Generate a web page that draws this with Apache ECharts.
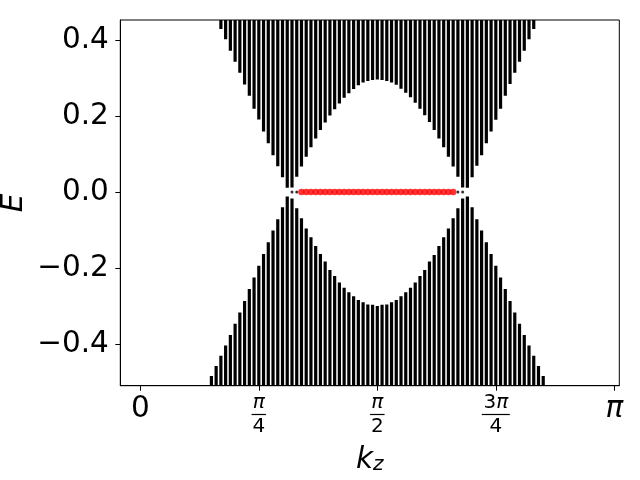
<!DOCTYPE html>
<html>
<head>
<meta charset="utf-8">
<script src="https://cdn.jsdelivr.net/npm/echarts@6/dist/echarts.min.js"></script>
<style>
  html, body { margin: 0; padding: 0; background: #fff; }
  #chart { width: 640px; height: 480px; }
</style>
</head>
<body>
<div id="chart"></div>
<script>
// kz in units of pi; E (edge of each column of eigenvalues)
const kzUpper = [0.17, 0.18, 0.19, 0.20, 0.21, 0.22, 0.23, 0.24, 0.25, 0.26, 0.27, 0.28, 0.29, 0.30, 0.31, 0.32, 0.33,
  0.34, 0.35, 0.36, 0.37, 0.38, 0.39, 0.40, 0.41, 0.42, 0.43, 0.44, 0.45, 0.46, 0.47, 0.48, 0.49, 0.50,
  0.51, 0.52, 0.53, 0.54, 0.55, 0.56, 0.57, 0.58, 0.59, 0.60, 0.61, 0.62, 0.63, 0.64, 0.65, 0.66,
  0.67, 0.68, 0.69, 0.70, 0.71, 0.72, 0.73, 0.74, 0.75, 0.76, 0.77, 0.78, 0.79, 0.80, 0.81, 0.82, 0.83];
const eUpper = [0.429, 0.402, 0.372, 0.343, 0.314, 0.283, 0.253, 0.219, 0.191, 0.159, 0.128, 0.097, 0.068, 0.039, 0.011, 0.012, 0.040,
  0.067, 0.093, 0.118, 0.141, 0.163, 0.183, 0.201, 0.218, 0.233, 0.248, 0.260, 0.271, 0.281, 0.288, 0.292, 0.295, 0.296,
  0.295, 0.292, 0.288, 0.282, 0.272, 0.261, 0.249, 0.235, 0.219, 0.202, 0.184, 0.163, 0.141, 0.118, 0.093, 0.067,
  0.040, 0.012, 0.011, 0.039, 0.069, 0.097, 0.128, 0.159, 0.190, 0.219, 0.253, 0.284, 0.314, 0.343, 0.372, 0.402, 0.429];

const kzLower = [0.14, 0.15, 0.16, 0.17, 0.18, 0.19, 0.20, 0.21, 0.22, 0.23, 0.24, 0.25, 0.26, 0.27, 0.28, 0.29, 0.30,
  0.31, 0.32, 0.33, 0.34, 0.35, 0.36, 0.37, 0.38, 0.39, 0.40, 0.41, 0.42, 0.43, 0.44, 0.45, 0.46, 0.47, 0.48, 0.49, 0.50,
  0.51, 0.52, 0.53, 0.54, 0.55, 0.56, 0.57, 0.58, 0.59, 0.60, 0.61, 0.62, 0.63, 0.64, 0.65, 0.66, 0.67, 0.68,
  0.69, 0.70, 0.71, 0.72, 0.73, 0.74, 0.75, 0.76, 0.77, 0.78, 0.79, 0.80, 0.81, 0.82, 0.83, 0.84, 0.85, 0.86];
const eLower = [-0.508, -0.484, -0.458, -0.431, -0.404, -0.376, -0.347, -0.317, -0.287, -0.255, -0.225, -0.194, -0.163, -0.132, -0.101, -0.072, -0.040,
  -0.012, -0.017, -0.043, -0.069, -0.096, -0.119, -0.142, -0.163, -0.183, -0.205, -0.221, -0.238, -0.252, -0.264, -0.274, -0.284, -0.290, -0.296, -0.297, -0.300,
  -0.297, -0.296, -0.290, -0.284, -0.274, -0.264, -0.252, -0.238, -0.221, -0.205, -0.183, -0.166, -0.142, -0.119, -0.096, -0.069, -0.043, -0.017,
  -0.012, -0.040, -0.072, -0.101, -0.132, -0.163, -0.194, -0.225, -0.255, -0.287, -0.317, -0.347, -0.376, -0.404, -0.431, -0.458, -0.484, -0.508];

// zero-energy surface states (red) and near-zero states by the nodes (black)
const kzArc = [0.34, 0.35, 0.36, 0.37, 0.38, 0.39, 0.40, 0.41, 0.42, 0.43, 0.44, 0.45, 0.46, 0.47, 0.48, 0.49, 0.50,
  0.51, 0.52, 0.53, 0.54, 0.55, 0.56, 0.57, 0.58, 0.59, 0.60, 0.61, 0.62, 0.63, 0.64, 0.65, 0.66];
const eArc = [0, 0, 0, 0, 0, 0, 0, 0, 0, 0, 0, 0, 0, 0, 0, 0, 0, 0, 0, 0, 0, 0, 0, 0, 0, 0, 0, 0, 0, 0, 0, 0, 0];
const kzNear = [0.32, 0.33, 0.67, 0.68];
const eNear = [0, 0, 0, 0];

const xTicks = [0, 0.25, 0.5, 0.75, 1];
const xTickLabels = ['0', 'π/4', 'π/2', '3π/4', 'π'];
const yTicks = [-0.4, -0.2, 0.0, 0.2, 0.4];

const X_MIN = -0.0422, X_MAX = 1.0105;
const Y_MIN = -0.5097, Y_MAX = 0.4526;

const chart = echarts.init(document.getElementById('chart'));

function columns(kz, e, end) {
    return kz.map((k, i) => [k, e[i], end]);
}

function renderColumn(params, api) {
    const a = api.coord([api.value(0), api.value(1)]);
    const b = api.coord([api.value(0), api.value(2)]);
    const w = 3.2;
    return {
        type: 'rect',
        shape: { x: a[0] - w / 2, y: Math.min(a[1], b[1]), width: w, height: Math.abs(b[1] - a[1]) },
        style: { fill: '#000' }
    };
}

function tokens(str, big) {
    return str.split('').map(c => {
        const st = c === 'π' ? (big ? 'bi' : 'si') : (big ? 'br' : 'sr');
        return '{' + st + '|' + c + '}';
    }).join('');
}

function fmtX(v) {
    const i = xTicks.findIndex(t => Math.abs(t - v) < 1e-9);
    if (i < 0) return '';
    const parts = xTickLabels[i].split('/');
    if (parts.length === 1) return tokens(parts[0], true);
    const bar = parts[0].length > 1 ? 'barL' : 'barS';
    return tokens(parts[0], false) + '\n{' + bar + '| }\n' + tokens(parts[1], false);
}

const font = 'DejaVu Sans';
const big = 29.5;
const small = 20;
const bigLH = 31.6;

const option = {
    animation: false,
    backgroundColor: '#fff',
    grid: {
        left: 120.3, right: 20.7, top: 20, bottom: 94.3,
        containLabel: false, outerBoundsMode: 'none',
        show: true, borderColor: '#000', borderWidth: 1, backgroundColor: 'transparent'
    },
    xAxis: {
        type: 'value',
        min: X_MIN, max: X_MAX,
        splitLine: { show: false },
        axisLine: { show: true, onZero: false, lineStyle: { color: '#000', width: 1 } },
        axisTick: { show: true, inside: false, length: 5, lineStyle: { color: '#000', width: 1 }, customValues: xTicks },
        axisLabel: {
            customValues: xTicks,
            margin: 7.8,
            color: '#000',
            formatter: fmtX,
            rich: {
                br: { fontFamily: font, fontSize: big, lineHeight: bigLH, color: '#000' },
                bi: { fontFamily: font, fontSize: big, fontStyle: 'italic', lineHeight: bigLH, color: '#000' },
                sr: { fontFamily: font, fontSize: small, lineHeight: 18, color: '#000' },
                si: { fontFamily: font, fontSize: small, fontStyle: 'italic', lineHeight: 18, color: '#000' },
                barS: { width: 14.5, height: 1.2, lineHeight: 6, backgroundColor: '#000', fontSize: 1 },
                barL: { width: 28, height: 1.2, lineHeight: 6, backgroundColor: '#000', fontSize: 1 }
            }
        },
        name: '{k|k}{z|z}',
        nameLocation: 'middle',
        nameGap: 61,
        nameTextStyle: {
            rich: {
                k: { fontFamily: font, fontSize: big, fontStyle: 'italic', lineHeight: 28, color: '#000' },
                z: { fontFamily: font, fontSize: small, fontStyle: 'italic', lineHeight: 16, verticalAlign: 'bottom', color: '#000' }
            }
        }
    },
    yAxis: {
        type: 'value',
        min: Y_MIN, max: Y_MAX,
        splitLine: { show: false },
        axisLine: { show: true, onZero: false, lineStyle: { color: '#000', width: 1 } },
        axisTick: { show: true, inside: false, length: 5, lineStyle: { color: '#000', width: 1 }, customValues: yTicks },
        axisLabel: {
            customValues: yTicks,
            margin: 11.5,
            color: '#000',
            fontFamily: font,
            fontSize: big,
            formatter: v => (v < 0 ? '\u2212' : '') + Math.abs(v).toFixed(1)
        },
        name: 'E',
        nameLocation: 'middle',
        nameRotate: 90,
        nameGap: 91,
        nameMoveOverlap: false,
        nameTextStyle: { fontFamily: font, fontSize: big, fontStyle: 'italic', color: '#000' }
    },
    series: [
        {
            type: 'custom',
            name: 'upper',
            renderItem: renderColumn,
            clip: true,
            encode: { x: 0, y: [1, 2] },
            data: columns(kzUpper, eUpper, Y_MAX)
        },
        {
            type: 'custom',
            name: 'lower',
            renderItem: renderColumn,
            clip: true,
            encode: { x: 0, y: [1, 2] },
            data: columns(kzLower, eLower, Y_MIN)
        },
        {
            type: 'scatter',
            name: 'near',
            symbol: 'circle',
            symbolSize: 3,
            itemStyle: { color: '#000' },
            data: kzNear.map((k, i) => [k, eNear[i]])
        },
        {
            type: 'scatter',
            name: 'arc',
            symbol: 'circle',
            symbolSize: 6.5,
            itemStyle: { color: '#ff0000' },
            data: kzArc.map((k, i) => [k, eArc[i]])
        }
    ]
};

chart.setOption(option);
</script>
</body>
</html>
